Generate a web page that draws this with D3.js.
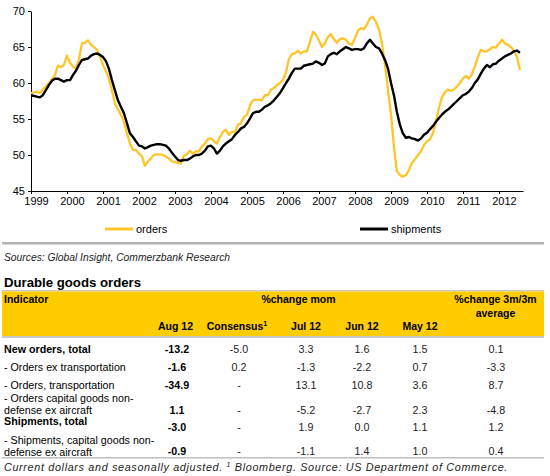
<!DOCTYPE html>
<html><head><meta charset="utf-8">
<script src="https://cdn.jsdelivr.net/npm/d3@7"></script>
<style>
body{margin:0;background:#fff;}
svg{display:block;font-family:"Liberation Sans",Arial,sans-serif;}
</style></head>
<body><svg id="c" width="550" height="476"></svg>
<script>
// ---- chart data (monthly, Jan 1999 – Aug 2012) ----
const startYear = 1999;
const orders = [
58.6,58.7,58.8,58.6,59.1,59.5,60.0,60.5,61.1,62.4,62.2,62.5,
63.8,62.8,62.3,62.0,63.3,65.5,65.6,65.9,65.3,65.0,64.6,63.7,
62.5,61.6,60.6,59.0,57.2,56.3,55.6,54.6,53.0,51.6,50.7,50.7,
50.2,49.8,48.5,49.1,49.5,50.0,50.1,50.1,50.0,49.8,49.5,49.1,
49.0,48.9,48.8,49.9,50.1,50.6,50.2,50.5,50.5,51.2,51.6,52.2,
52.3,51.9,51.6,52.5,53.2,53.5,52.8,53.2,53.2,54.2,54.4,55.3,
55.6,56.9,57.6,57.7,57.7,57.6,58.3,58.3,59.1,59.3,59.7,60.0,
60.4,61.5,63.3,64.0,64.1,64.5,64.1,64.4,64.4,65.7,67.1,66.7,
65.9,65.0,65.5,66.4,66.8,66.1,65.6,66.1,66.2,66.0,65.5,65.3,
66.2,67.3,67.6,67.5,68.1,69.0,69.2,68.5,67.4,65.5,62.5,59.0,
55.6,51.0,47.8,47.2,47.0,47.2,47.9,48.9,49.4,50.0,50.5,51.4,
51.9,52.2,53.0,54.6,56.5,58.0,58.7,59.1,58.9,59.1,59.5,60.0,
60.6,61.0,60.6,61.2,62.3,63.6,64.6,64.4,64.4,64.7,65.0,64.9,
65.5,66.0,65.5,65.3,65.0,64.5,63.7,61.8];
const shipments = [
58.3,58.2,58.1,58.0,58.3,59.0,59.7,60.3,60.6,60.6,60.4,60.2,
60.4,60.4,61.1,61.7,62.5,63.2,63.3,63.4,63.8,64.0,64.1,63.9,
63.6,63.0,62.0,60.4,59.0,57.6,56.7,55.8,54.4,53.0,52.5,51.9,
51.3,51.2,50.9,51.1,51.3,51.4,51.5,51.5,51.4,51.3,50.9,50.3,
49.8,49.3,49.2,49.3,49.3,49.5,49.8,50.0,50.0,50.2,50.6,51.2,
51.3,50.9,50.2,50.6,51.2,51.6,51.9,52.2,52.8,53.2,53.7,53.9,
54.4,55.1,55.8,56.0,56.0,56.3,56.7,56.9,57.2,57.6,58.1,58.6,
59.3,60.0,60.6,61.4,62.0,62.0,62.0,62.4,62.5,62.6,62.7,63.0,
62.8,62.5,62.7,63.7,64.0,64.2,64.0,64.4,64.7,65.0,64.8,64.6,
64.7,64.7,64.6,64.8,65.5,66.0,65.5,65.0,64.8,64.1,63.2,62.0,
60.0,58.2,56.0,54.2,53.0,52.4,52.5,52.3,52.2,52.0,52.3,52.8,
53.1,53.6,54.0,54.6,55.1,55.6,56.0,56.3,56.7,57.1,57.5,57.9,
58.3,58.5,58.8,59.3,60.0,60.5,61.3,62.0,62.5,62.2,62.6,62.7,
63.1,63.4,63.7,63.9,64.1,64.4,64.5,64.2];
const yearTicks = [1999,2000,2001,2002,2003,2004,2005,2006,2007,2008,2009,2010,2011,2012];
const yTicks = [45,50,55,60,65,70];
const seriesNames = ["orders","shipments"];

// ---- table data ----
const indicators = [
  ["New orders, total"],
  ["- Orders ex transportation"],
  ["- Orders, transportation"],
  ["- Orders capital goods non-","defense ex aircraft"],
  ["Shipments, total"],
  ["- Shipments, capital goods non-","defense ex aircraft"]];
const boldRows = [true,false,false,false,true,false];
const aug12 = ["-13.2","-1.6","-34.9","1.1","-3.0","-0.9"];
const consensus = ["-5.0","0.2","-","-","-","-"];
const jul12 = ["3.3","-1.3","13.1","-5.2","1.9","-1.1"];
const jun12 = ["1.6","-2.2","10.8","-2.7","0.0","1.4"];
const may12 = ["1.5","0.7","3.6","2.3","1.1","1.0"];
const avg3m = ["0.1","-3.3","8.7","-4.8","1.2","0.4"];
const colHeaders = ["Aug 12","Consensus","Jul 12","Jun 12","May 12"];

const YELLOW = "#FDC52A";
const svg = d3.select("#c");

// ---- chart ----
const dates = orders.map((_, i) => new Date(startYear, i, 1));
const x = d3.scaleTime().domain([new Date(1999,0,1), new Date(2012,8,1)]).range([31, 523]);
const y = d3.scaleLinear().domain([45,70]).range([191, 11]);

const g = svg.append("g");
const xAxis = d3.axisBottom(x)
  .tickValues(yearTicks.map(yr => new Date(yr,0,1)))
  .tickSize(3).tickSizeOuter(0)
  .tickFormat(d3.timeFormat("%Y"));
const xa = g.append("g").attr("transform","translate(0,191)").call(xAxis);
xa.selectAll("text").attr("dx", 5).attr("dy", "0.75em").attr("y", 6)
  .style("font-size","11px").style("font-family","Liberation Sans, Arial").attr("fill","#000");
xa.selectAll("line,path").attr("stroke","#000");

const yAxis = d3.axisLeft(y).tickValues(yTicks).tickSize(3).tickSizeOuter(0);
const ya = g.append("g").attr("transform","translate(31,0)").call(yAxis);
ya.selectAll("text").attr("x", -6)
  .style("font-size","11px").style("font-family","Liberation Sans, Arial").attr("fill","#000");
ya.selectAll("line,path").attr("stroke","#000");

const line = d3.line().x((d,i) => x(dates[i])).y(d => y(d)).curve(d3.curveLinear);
g.append("path").datum(orders).attr("d", line).attr("fill","none")
  .attr("stroke", YELLOW).attr("stroke-width", 2.3).attr("stroke-linejoin","round");
g.append("path").datum(shipments).attr("d", line).attr("fill","none")
  .attr("stroke", "#000").attr("stroke-width", 2.4).attr("stroke-linejoin","round");

// legend
const legend = [{name:seriesNames[0], c:YELLOW, x:105},{name:seriesNames[1], c:"#000", x:360}];
legend.forEach(l => {
  svg.append("line").attr("x1", l.x).attr("x2", l.x+28).attr("y1",229).attr("y2",229)
    .attr("stroke", l.c).attr("stroke-width", 3);
  svg.append("text").attr("x", l.x+31).attr("y", 233).text(l.name)
    .style("font-size","11px");
});

// separator
svg.append("rect").attr("x",2).attr("y",242).attr("width",542).attr("height",2.5).attr("fill","#b4b4b4");

svg.append("text").attr("x",4).attr("y",261).style("font-size","10.3px").style("font-style","italic")
  .attr("fill","#222").text("Sources: Global Insight, Commerzbank Research");

svg.append("text").attr("x",4).attr("y",287).style("font-size","13.2px").style("font-weight","bold")
  .text("Durable goods orders");

// ---- table ----
svg.append("rect").attr("x",2).attr("y",290).attr("width",542).attr("height",1.5).attr("fill","#c8c8c8");
svg.append("rect").attr("x",2).attr("y",291.5).attr("width",542).attr("height",44.5).attr("fill","#FFCC00");
svg.append("rect").attr("x",2).attr("y",336).attr("width",542).attr("height",2).attr("fill","#c8c8c8");

const hdr = (t, xx, yy, anchor) => svg.append("text").attr("x",xx).attr("y",yy)
  .attr("text-anchor", anchor||"middle").style("font-size","10.5px").style("font-weight","bold").text(t);
hdr("Indicator", 4, 303, "start");
hdr("%change mom", 298.5, 303);
hdr("%change 3m/3m", 495.5, 303);
hdr("average", 495.5, 317);
const colX = [177, 239, 306, 362, 420, 496];
colHeaders.forEach((h,i) => {
  const t = hdr(h, colX[i] - (i===1 ? 2 : 0) - (i===0 ? 1.5 : 0), 329.5);
  if (i === 1) t.append("tspan").attr("dy",-4).style("font-size","7px").text("1");
});

const rowBase = [352.5, 371, 389, 413.5, 431, 455];
const labelBase = [[352.5],[371],[389],[401.5,413.5],[424.5],[443.5,455.5]];
const cols = [aug12, consensus, jul12, jun12, may12, avg3m];
indicators.forEach((lines, r) => {
  lines.forEach((ln, k) => {
    svg.append("text").attr("x",4).attr("y",labelBase[r][k])
      .style("font-size","10.7px").style("font-weight", boldRows[r] ? "bold" : "normal").text(ln);
  });
  cols.forEach((col, c) => {
    svg.append("text").attr("x", colX[c]).attr("y", rowBase[r]).attr("text-anchor","middle")
      .style("font-size","10.7px").style("font-weight", c===0 ? "bold" : "normal")
      .attr("fill", c===0 ? "#000" : "#222").text(col[r]);
  });
});
svg.append("rect").attr("x",2).attr("y",457).attr("width",542).attr("height",1.5).attr("fill","#c0c0c0");

const foot = svg.append("text").attr("x",4).attr("y",471).style("font-size","10.8px").style("font-style","italic").attr("fill","#222");
foot.append("tspan").text("Current dollars and seasonally adjusted. ");
foot.append("tspan").attr("dy",-4).style("font-size","7px").text("1");
foot.append("tspan").attr("dy",4).text(" Bloomberg. Source: US Department of Commerce.");
// stretch to match the reference's wider footnote
const fl = foot.node().getComputedTextLength();
const nChars = "Current dollars and seasonally adjusted. 1 Bloomberg. Source: US Department of Commerce.".length;
foot.style("letter-spacing", ((504 - fl) / nChars).toFixed(3) + "px");
</script></body></html>
